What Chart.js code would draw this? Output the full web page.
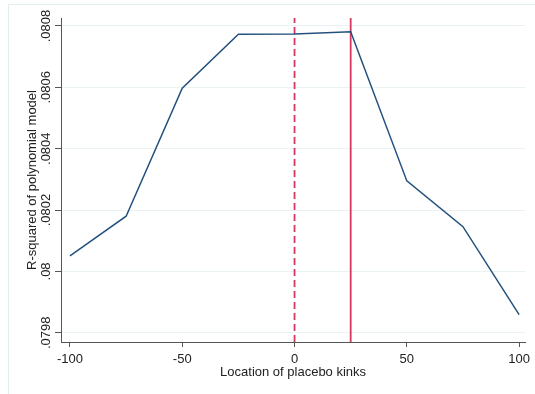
<!DOCTYPE html>
<html>
<head>
<meta charset="utf-8">
<script src="https://cdn.jsdelivr.net/npm/chart.js@4"></script>
<style>
  html, body { margin: 0; padding: 0; background: #fff; }
  #wrap { width: 535px; height: 394px; }
</style>
</head>
<body>
<div id="wrap"><canvas id="grafico"></canvas></div>
<script>
// Placebo kink locations and R-squared values
const locais = [-100, -75, -50, -25, 0, 25, 50, 75, 100];
const rQuadrado = [0.080051, 0.080180, 0.080597, 0.080773, 0.080774, 0.080781, 0.080295, 0.080146, 0.079859];

// vertical reference lines: true kink (dashed) and estimated (solid)
const linhaTracejada = 0;
const linhaSolida = 25;

const xTicks = [-100, -50, 0, 50, 100];
const yTicks = [0.0798, 0.08, 0.0802, 0.0804, 0.0806, 0.0808];
const yTickLabels = ['.0798', '.08', '.0802', '.0804', '.0806', '.0808'];

const yMin = 0.07977, yMax = 0.080826;
const FONTE = '"Liberation Sans", Arial, sans-serif';

// outer frame + rotated y tick labels (Stata style)
const estiloStata = {
    id: 'estiloStata',
    beforeDraw(chart) {
        const ctx = chart.ctx;
        ctx.save();
        ctx.strokeStyle = '#e3ecee';
        ctx.lineWidth = 1;
        ctx.beginPath();
        ctx.moveTo(8.5, chart.height);
        ctx.lineTo(8.5, 4.5);
        ctx.lineTo(chart.width, 4.5);
        ctx.stroke();
        ctx.restore();
    },
    afterDraw(chart) {
        const ctx = chart.ctx;
        const y = chart.scales.y;
        ctx.save();
        ctx.fillStyle = '#222';
        ctx.font = '13px ' + FONTE;
        ctx.textAlign = 'center';
        ctx.textBaseline = 'middle';
        yTicks.forEach((v, i) => {
            const py = y.getPixelForValue(v);
            ctx.save();
            ctx.translate(46, py);
            ctx.rotate(-Math.PI / 2);
            ctx.fillText(yTickLabels[i], 0, 0);
            ctx.restore();
        });
        ctx.restore();
    }
};

const ctx = document.getElementById('grafico').getContext('2d');
new Chart(ctx, {
    type: 'line',
    data: {
        datasets: [
            {
                data: locais.map((x, i) => ({ x: x, y: rQuadrado[i] })),
                borderColor: '#23517e',
                borderWidth: 1.5,
                pointRadius: 0,
                tension: 0,
                fill: false
            },
            {
                data: [{ x: linhaTracejada, y: yMin }, { x: linhaTracejada, y: yMax }],
                borderColor: '#d6385f',
                borderWidth: 1.8,
                borderDash: [7, 4],
                pointRadius: 0
            },
            {
                data: [{ x: linhaSolida, y: yMin }, { x: linhaSolida, y: yMax }],
                borderColor: '#d6385f',
                borderWidth: 1.8,
                pointRadius: 0
            }
        ]
    },
    options: {
        responsive: true,
        maintainAspectRatio: false,
        animation: false,
        layout: { padding: { left: 0, right: 4, top: 18, bottom: 0 } },
        plugins: {
            legend: { display: false },
            tooltip: { enabled: false }
        },
        scales: {
            x: {
                type: 'linear',
                min: -104,
                max: 102.7,
                afterBuildTicks: s => { s.ticks = xTicks.map(v => ({ value: v })); },
                afterFit: s => { s.height = 52; },
                grid: {
                    drawOnChartArea: false,
                    drawTicks: true,
                    tickLength: 5,
                    tickColor: '#555'
                },
                border: { display: true, color: '#555', width: 1 },
                ticks: {
                    color: '#222',
                    font: { family: FONTE, size: 13 },
                    padding: 5,
                    maxRotation: 0,
                    autoSkip: false
                },
                title: {
                    display: true,
                    text: 'Location of placebo kinks',
                    color: '#222',
                    font: { family: FONTE, size: 13 },
                    padding: { top: 0, bottom: 14 }
                }
            },
            y: {
                type: 'linear',
                min: yMin,
                max: yMax,
                afterBuildTicks: s => { s.ticks = yTicks.map(v => ({ value: v })); },
                afterFit: s => { s.width = 61; },
                grid: {
                    color: '#eaf2f3',
                    drawTicks: true,
                    tickLength: 6,
                    tickColor: '#555'
                },
                border: { display: true, color: '#555', width: 1 },
                ticks: {
                    color: 'rgba(0,0,0,0)',
                    font: { family: FONTE, size: 13 },
                    callback: () => ''
                },
                title: {
                    display: true,
                    text: 'R-squared of polynomial model',
                    color: '#222',
                    font: { family: FONTE, size: 13 },
                    padding: { top: 25, bottom: 0 }
                }
            }
        }
    },
    plugins: [estiloStata]
});
</script>
</body>
</html>
